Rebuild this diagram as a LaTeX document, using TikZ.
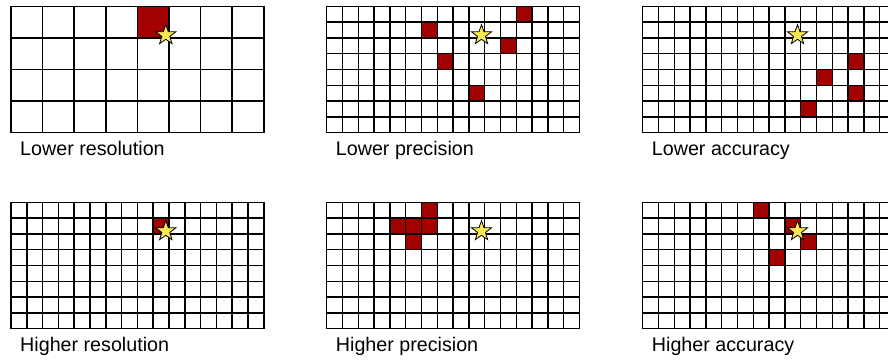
\documentclass[tikz,border=0pt]{standalone}
\usepackage{fontspec}
\setsansfont{Liberation Sans}
\usepackage{tikz}
\usetikzlibrary{shapes.geometric}
\definecolor{cellred}{RGB}{163,0,0}
\definecolor{staryellow}{RGB}{250,232,86}
\begin{document}
\begin{tikzpicture}[
  x=1pt,y=-1pt,font=\sffamily,
  hitcell/.style={fill=cellred,draw=none},
  gridline/.style={draw=black,line width=1.5pt,line cap=rect},
  target/.style={star,star points=5,star point ratio=2.5,minimum size=21pt,inner sep=0pt,
                 draw=black,line width=0.8pt,fill=staryellow},
  caption/.style={anchor=base west,inner sep=0pt,font=\sffamily\fontsize{19.7}{22}\selectfont}
]
\clip (0,0) rectangle (888,360);
% ---------- panels: origin x/y, columns, red cells (col/row), caption
\foreach \ox/\oy/\n/\cells/\lab [count=\k] in {
    11/6.3/8/{4/0}/Lower resolution,
    326.7/6.3/16/{12/0,6/1,11/2,7/3,9/5}/Lower precision,
    642.7/6.3/16/{13/3,11/4,13/5,10/6}/Lower accuracy,
    11/202.3/16/{9/1}/Higher resolution,
    326.7/202.3/16/{6/0,4/1,5/1,6/1,5/2}/Higher precision,
    642.7/202.3/16/{7/0,9/1,10/2,8/3}/Higher accuracy}{
  \begin{scope}[shift={(\ox,\oy)}]
    \pgfmathsetmacro{\cw}{252.8/\n}
    \pgfmathtruncatemacro{\nr}{\n/2}
    % red cells
    \foreach \c/\r in \cells
      \fill[hitcell] (\c*\cw,\r*\cw) rectangle ++(\cw,\cw);
    % grid
    \foreach \i in {0,...,\n}
      \draw[gridline] (\i*\cw,0) -- (\i*\cw,126.4);
    \foreach \j in {0,...,\nr}
      \draw[gridline] (0,\j*\cw) -- (252.8,\j*\cw);
    % target and caption
    \node[target] (star-\k) at (154.8,28.8) {};
    \node[caption] (lab-\k) at (9,148.7) {\lab};
  \end{scope}
}
\end{tikzpicture}
\end{document}
